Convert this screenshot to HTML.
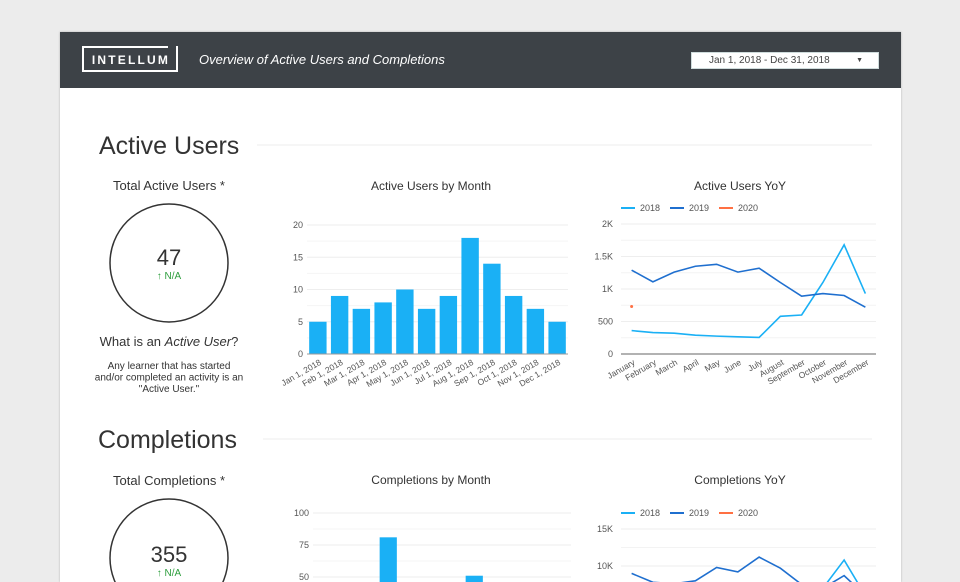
<!DOCTYPE html>
<html><head><meta charset="utf-8">
<style>
html,body{margin:0;padding:0;width:960px;height:582px;overflow:hidden;background:#ececec;font-family:"Liberation Sans",sans-serif;}
#card{position:absolute;left:60px;top:32px;width:841px;height:550px;background:#fff;box-shadow:0 0 2px rgba(0,0,0,.25);}
#hdr{position:absolute;left:0;top:0;width:841px;height:56px;background:#3d4247;}
#logo{position:absolute;left:22px;top:14px;width:96px;height:26px;border:2px solid #fff;border-top-color:transparent;color:#fff;font-weight:bold;font-size:12px;letter-spacing:2.2px;line-height:24px;text-align:center;box-sizing:border-box;padding-left:2px;}
#logo:before{content:"";position:absolute;left:-2px;top:-2px;width:86px;border-top:2px solid #fff;}
#logo:after{content:"";position:absolute;right:-2px;top:-2px;width:2px;border-top:2px solid #fff;}
#subtitle{position:absolute;left:139px;top:20px;color:#fff;font-style:italic;font-size:13px;}
#date{position:absolute;left:631px;top:20px;width:188px;height:17px;background:#fff;border:1px solid #cfdcdc;box-sizing:border-box;font-size:10px;color:#444;line-height:15px;padding-left:17px;}
#date span{position:absolute;right:15px;top:0;font-size:7px;}
svg{position:absolute;left:0;top:0;}
</style></head><body>
<div id="card">
<div id="hdr">
<div id="logo">INTELLUM</div>
<div id="subtitle">Overview of Active Users and Completions</div>
<div id="date">Jan 1, 2018 - Dec 31, 2018<span>▼</span></div>
</div>
</div>
<svg id="s" width="960" height="582" font-family="Liberation Sans, sans-serif">
<text x="99" y="154" font-size="25" fill="#333">Active Users</text>
<line x1="257" y1="145" x2="872" y2="145" stroke="#eee"/>
<text x="98" y="448" font-size="25" fill="#333">Completions</text>
<line x1="263" y1="439" x2="872" y2="439" stroke="#eee"/>

<text x="169" y="190" font-size="13" fill="#333" text-anchor="middle">Total Active Users *</text>
<circle cx="169" cy="263" r="59" fill="none" stroke="#333" stroke-width="1.5"/>
<text x="169" y="265" font-size="22" fill="#333" text-anchor="middle">47</text>
<text x="169" y="279" font-size="10" fill="#2e9e3e" text-anchor="middle">↑ N/A</text>
<text x="169" y="346" font-size="13" fill="#333" text-anchor="middle">What is an <tspan font-style="italic">Active User</tspan>?</text>
<text x="169" y="369" font-size="10" fill="#333" text-anchor="middle"><tspan x="169">Any learner that has started</tspan><tspan x="169" dy="11.5">and/or completed an activity is an</tspan><tspan x="169" dy="11.5">"Active User."</tspan></text>

<text x="169" y="485" font-size="13" fill="#333" text-anchor="middle">Total Completions *</text>
<circle cx="169" cy="558" r="59" fill="none" stroke="#333" stroke-width="1.5"/>
<text x="169" y="562" font-size="22" fill="#333" text-anchor="middle">355</text>
<text x="169" y="576" font-size="10" fill="#2e9e3e" text-anchor="middle">↑ N/A</text>

<text x="431" y="190" font-size="12" fill="#333" text-anchor="middle">Active Users by Month</text>
<text x="740" y="190" font-size="12" fill="#333" text-anchor="middle">Active Users YoY</text>
<text x="431" y="484" font-size="12" fill="#333" text-anchor="middle">Completions by Month</text>
<text x="740" y="484" font-size="12" fill="#333" text-anchor="middle">Completions YoY</text>
<g id="g"></g>
</svg>
<script>
const barMonths=["Jan 1, 2018","Feb 1, 2018","Mar 1, 2018","Apr 1, 2018","May 1, 2018","Jun 1, 2018","Jul 1, 2018","Aug 1, 2018","Sep 1, 2018","Oct 1, 2018","Nov 1, 2018","Dec 1, 2018"];
const activeUsers=[5,9,7,8,10,7,9,18,14,9,7,5];
const activeTicks=[0,5,10,15,20];
const completions=[20,15,30,81,25,10,35,51,30,20,15,10];
const completionTicks=[0,25,50,75,100];
const monthNames=["January","February","March","April","May","June","July","August","September","October","November","December"];
const au2018=[360,330,320,290,275,265,255,580,600,1100,1680,930];
const au2019=[1290,1110,1260,1350,1380,1260,1320,1100,890,930,900,720];
const au2020=[730];
const auTicks=[0,500,1000,1500,2000];
const auTickLabels=["0","500","1K","1.5K","2K"];
const co2018=[2000,1800,1700,1600,1500,1400,1300,1500,2000,7000,10800,6000];
const co2019=[9000,7800,7600,8000,9800,9200,11200,9700,7500,7000,8700,6000];
const co2020=[];
const coTicks=[0,5000,10000,15000];
const coTickLabels=["0","5K","10K","15K"];

const NS="http://www.w3.org/2000/svg";
const g=document.getElementById('g');
function mk(t,a,txt){const e=document.createElementNS(NS,t);for(const k in a)e.setAttribute(k,a[k]);if(txt!=null)e.textContent=txt;g.appendChild(e);return e;}

function barChart(name,vals,ticks,x0,x1,y0,yTop,maxV,labels){
  const y=v=>y0-(v/maxV)*(y0-yTop);
  for(let i=0;i<ticks.length;i++){
    const l=mk('line',{x1:x0,x2:x1,y1:y(ticks[i]),y2:y(ticks[i]),stroke:'#eee'});
    
    
    if(i<ticks.length-1){const m=mk('line',{x1:x0,x2:x1,y1:y((ticks[i]+ticks[i+1])/2),y2:y((ticks[i]+ticks[i+1])/2),stroke:'#f5f5f5'});
    
    }
    const t=mk('text',{x:x0-4,y:y(ticks[i])+3,'font-size':9,fill:'#555','text-anchor':'end'},String(ticks[i]));
    
    
  }
  const step=(x1-x0)/vals.length;
  vals.forEach((v,i)=>{
    const bx=x0+step*i+step*0.1;
    const r=mk('rect',{x:bx,y:y(v),width:step*0.8,height:y0-y(v),fill:'#1ab0f5'});
    
    
    if(labels){const cx=x0+step*(i+0.5)+4;const t=mk('text',{x:cx,y:y0+10,'font-size':8.5,fill:'#555','text-anchor':'end',transform:`rotate(-30 ${cx} ${y0+10})`},labels[i]);
    
    }
  });
  const ax=mk('line',{x1:x0,x2:x1,y1:y0,y2:y0,stroke:'#999'});
  
  
}
barChart('active-bars',activeUsers,activeTicks,307,568,354,225,20,barMonths);
barChart('completion-bars',completions,completionTicks,313,571,641,513,100,null);

function lineChart(name,series,colors,ticks,tlabels,x0,x1,y0,maxV,pxPerUnit,legendY,labels){
  const y=v=>y0-v*pxPerUnit;
  for(let i=0;i<ticks.length;i++){
    const l=mk('line',{x1:x0,x2:x1,y1:y(ticks[i]),y2:y(ticks[i]),stroke:'#eee'});
    
    
    if(i<ticks.length-1){const m=mk('line',{x1:x0,x2:x1,y1:y((ticks[i]+ticks[i+1])/2),y2:y((ticks[i]+ticks[i+1])/2),stroke:'#f3f3f3'});
    
    }
    const t=mk('text',{x:x0-8,y:y(ticks[i])+3,'font-size':9,fill:'#555','text-anchor':'end'},tlabels[i]);
    
    
  }
  const ax=mk('line',{x1:x0,x2:x1,y1:y0,y2:y0,stroke:'#999','stroke-width':1.5});
  
  
  const step=(x1-x0)/12;
  const xp=i=>x0+step*(i+0.5);
  const years=['2018','2019','2020'];
  series.forEach((s,k)=>{
    const lx=621+k*49;
    const ll=mk('line',{x1:lx,x2:lx+14,y1:legendY,y2:legendY,stroke:colors[k],'stroke-width':2});
    
    
    const lt=mk('text',{x:lx+19,y:legendY+3,'font-size':9,fill:'#555'},years[k]);
    
    
    if(s.length===1){const c=mk('circle',{cx:xp(0),cy:y(s[0]),r:1.5,fill:colors[k]});
      
      }
    else if(s.length>1){const p=mk('polyline',{points:s.map((v,i)=>xp(i)+','+y(v)).join(' '),fill:'none',stroke:colors[k],'stroke-width':1.6});
      
      }
  });
  if(labels) labels.forEach((m,i)=>{const cx=xp(i)+4;const t=mk('text',{x:cx,y:y0+10,'font-size':8.5,fill:'#555','text-anchor':'end',transform:`rotate(-30 ${cx} ${y0+10})`},m);
    
    });
}
const cols=['#1ab0f5','#1f6fcf','#ff7043'];
lineChart('active-yoy',[au2018,au2019,au2020],cols,auTicks,auTickLabels,621,876,354,2000,130/2000,208,monthNames);
lineChart('completions-yoy',[co2018,co2019,co2020],cols,coTicks,coTickLabels,621,876,640,15000,37/5000,513,null);
</script>
</body></html>
